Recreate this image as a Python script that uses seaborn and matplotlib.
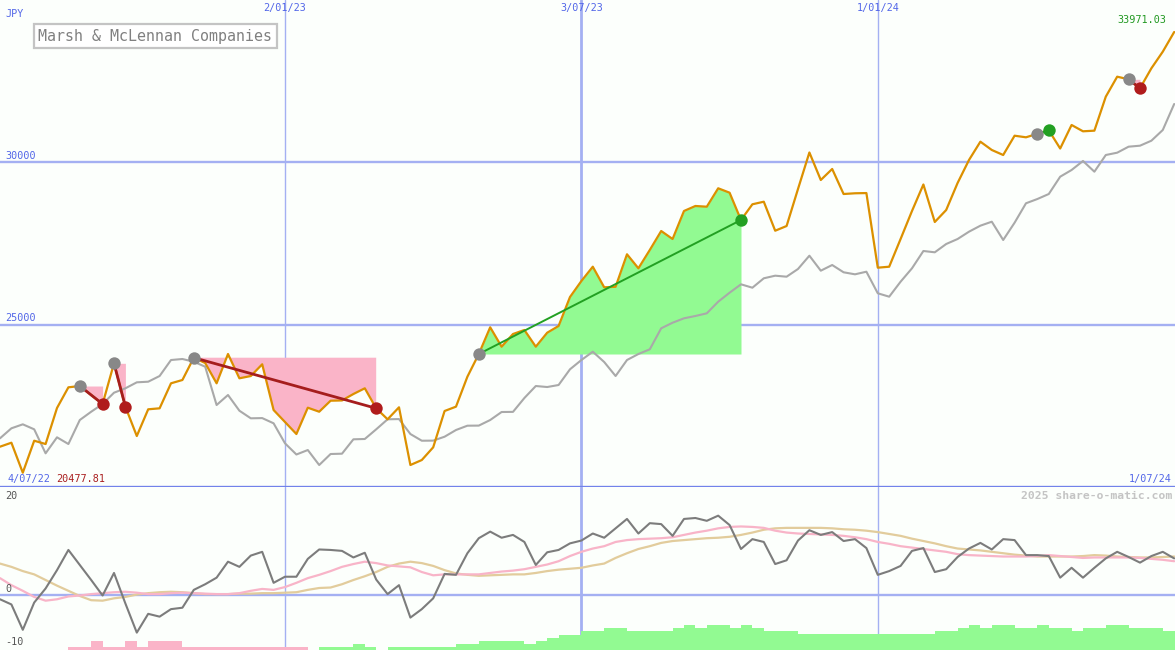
import seaborn as sns
import matplotlib.pyplot as plt
import matplotlib.dates as mdates
import numpy as np
import pandas as pd

# weekly closes, 11 Jul 2022 .. 1 Jul 2024 (JPY)
weeks = pd.date_range('2022-07-11', '2024-07-01', freq='7D')

price = [21274, 21396, 20477.81, 21457, 21356, 22459, 23092, 23132, 22857, 22581,
         23827, 22498, 21601, 22419, 22449, 23215, 23316, 23999, 23836, 23215,
         24112, 23368, 23438, 23797, 22397, 22030, 21662, 22468, 22345, 22682,
         22690, 22887, 23062, 22449, 22113, 22480, 20713, 20866, 21255, 22367,
         22500, 23417, 24112, 24930, 24336, 24724, 24847, 24336, 24764, 24970,
         25857, 26347, 26785, 26154, 26170, 27165, 26736, 27297, 27878, 27633,
         28491, 28644, 28622, 29186, 29051, 28215, 28696, 28775, 27887, 28031,
         29164, 30282, 29440, 29777, 29011, 29033, 29040, 26755, 26785, 27633,
         28491, 29302, 28154, 28521, 29348, 30052, 30613, 30359, 30205, 30796,
         30747, 30855, 30962, 30404, 31124, 30931, 30950, 31991, 32603, 32523,
         32248, 32860, 33369, 33971.03]

# comparison index, scaled to the price
market = [21531, 21837, 21959, 21806, 21071, 21561, 21356, 22091, 22345, 22581,
          22927, 23062, 23245, 23264, 23438, 23928, 23959, 23876, 23723, 22550,
          22857, 22376, 22143, 22150, 21990, 21378, 21035, 21172, 20713, 21050,
          21060, 21500, 21510, 21806, 22113, 22120, 21662, 21457, 21460, 21580,
          21785, 21917, 21920, 22091, 22336, 22340, 22765, 23132, 23101, 23163,
          23644, 23928, 24182, 23867, 23438, 23928, 24112, 24256, 24899, 25070,
          25205, 25276, 25358, 25713, 25989, 26246, 26142, 26430, 26510, 26479,
          26715, 27122, 26663, 26837, 26614, 26552, 26632, 25971, 25867, 26326,
          26736, 27266, 27226, 27480, 27633, 27857, 28041, 28163, 27603, 28132,
          28727, 28858, 29011, 29541, 29746, 30022, 29694, 30205, 30276, 30460,
          30490, 30643, 30971, 31767]

momentum = [-0.9, -2.0, -7.4, -1.6, 1.4, 5.3, 9.6, 6.4, 3.2, -0.1,
            4.7, -1.8, -8.0, -4.0, -4.6, -3.0, -2.7, 1.1, 2.3, 3.7,
            7.1, 6.0, 8.4, 9.2, 2.6, 3.9, 3.9, 7.7, 9.7, 9.6,
            9.4, 8.0, 9.0, 3.3, 0.2, 2.1, -4.8, -3.0, -0.7, 4.5,
            4.3, 8.9, 12.1, 13.5, 12.2, 12.8, 11.3, 6.4, 9.1, 9.6,
            11.0, 11.6, 13.1, 12.2, 14.2, 16.2, 13.1, 15.3, 15.1, 12.6,
            16.2, 16.4, 15.8, 16.9, 14.9, 9.8, 11.9, 11.3, 6.6, 7.4,
            11.6, 13.8, 12.8, 13.4, 11.5, 11.9, 10.0, 4.3, 5.1, 6.2,
            9.4, 10.0, 4.9, 5.5, 8.1, 9.9, 11.1, 9.7, 11.9, 11.7,
            8.5, 8.5, 8.3, 3.7, 5.8, 3.7, 5.8, 7.8, 9.2, 8.1,
            6.9, 8.3, 9.2, 7.8]

avg_fast = [3.6, 2.1, 0.9, -0.4, -1.2, -0.9, -0.3, -0.1, 0.2, 0.4,
            0.6, 0.7, 0.5, 0.2, 0.2, 0.4, 0.5, 0.4, 0.3, 0.2,
            0.2, 0.4, 0.9, 1.3, 1.1, 1.7, 2.6, 3.6, 4.3, 5.1,
            6.0, 6.6, 7.1, 6.8, 6.3, 6.1, 5.9, 4.9, 4.2, 4.4,
            4.4, 4.4, 4.4, 4.7, 5.0, 5.2, 5.5, 6.0, 6.5, 7.2,
            8.3, 9.2, 9.9, 10.4, 11.3, 11.7, 11.9, 12.0, 12.1, 12.3,
            12.8, 13.3, 13.7, 14.2, 14.5, 14.6, 14.5, 14.3, 13.7, 13.3,
            13.1, 13.0, 12.9, 12.8, 12.6, 12.3, 11.9, 11.3, 10.9, 10.4,
            10.1, 9.8, 9.5, 9.2, 8.7, 8.5, 8.4, 8.3, 8.2, 8.2,
            8.2, 8.3, 8.5, 8.3, 8.1, 7.9, 8.0, 8.0, 8.0, 8.0,
            7.9, 7.7, 7.5, 7.2]

avg_slow = [6.7, 6.0, 5.1, 4.4, 3.2, 2.0, 0.9, -0.2, -1.1, -1.2,
            -0.7, -0.4, 0.1, 0.4, 0.6, 0.7, 0.6, 0.4, 0.2, 0.2,
            0.2, 0.3, 0.3, 0.4, 0.4, 0.5, 0.6, 1.1, 1.5, 1.6,
            2.3, 3.2, 4.0, 4.9, 6.0, 6.7, 7.1, 6.8, 6.2, 5.3,
            4.6, 4.3, 4.1, 4.2, 4.3, 4.4, 4.4, 4.7, 5.1, 5.4,
            5.6, 5.8, 6.3, 6.7, 7.9, 8.9, 9.8, 10.4, 11.1, 11.5,
            11.7, 11.9, 12.1, 12.2, 12.4, 12.8, 13.3, 13.9, 14.2, 14.3,
            14.3, 14.3, 14.3, 14.2, 14.0, 13.9, 13.7, 13.4, 13.0, 12.6,
            12.0, 11.5, 11.0, 10.4, 9.9, 9.7, 9.5, 9.2, 8.9, 8.6,
            8.4, 8.2, 8.2, 8.2, 8.2, 8.3, 8.5, 8.4, 8.2, 8.1,
            8.0, 8.0, 8.1, 8.2]

# trend strength bars, negative = bearish (pink)
trend_bars = ([0] * 6 + [-3, -3, -9, -3, -3, -9, -3, -9, -9, -9] + [-3] * 11 + [0]
              + [3, 3, 3, 6, 3, 0] + [3] * 6 + [6, 6, 9, 9, 9, 9, 6, 9, 12, 15, 15]
              + [19, 19, 22, 22, 19, 19, 19, 19, 22, 25, 22, 25, 25, 22, 25, 22, 19, 19, 19]
              + [16] * 12 + [19, 19, 22, 25, 22, 25, 25, 22, 22, 25, 22, 22, 19, 22, 22,
                             25, 25, 22, 22, 22, 19, 19])

trade_buy = ['2022-08-29', '2022-09-19', '2022-11-07', '2023-05-01', '2024-04-08', '2024-06-03']
trade_sell = ['2022-09-12', '2022-09-26', '2023-02-27', '2023-10-09', '2024-04-15', '2024-06-10']

grid_dates = ['2023-01-02', '2023-07-03', '2024-01-01']
grid_labels = ['2/01/23', '3/07/23', '1/01/24']
grid_widths = [1.0, 2.0, 1.0]
price_grid = [25000, 30000]

df = pd.DataFrame({'week': weeks, 'price': price, 'market': market,
                   'momentum': momentum, 'fast': avg_fast, 'slow': avg_slow,
                   'bars': trend_bars})

sns.set_style('white')
plt.rcParams['font.family'] = ['DejaVu Sans Mono', 'DejaVu Sans']

bg = '#fcfffc'
gridc = '#a4b0f2'
blue = '#5266e8'
pink = '#fab4c8'
lgreen = '#92fa92'

W, H = 1175, 650
fig = plt.figure(figsize=(11.75, 6.5), dpi=100)
fig.patch.set_facecolor(bg)
top = 487 / H
ax = fig.add_axes([0, 1 - top, 1, top])
axm = fig.add_axes([0, 0, 1, 1 - top], sharex=ax)
for a in (ax, axm):
    a.set_facecolor(bg)
    for sp in a.spines.values():
        sp.set_visible(False)
ax.spines['bottom'].set_visible(True)
ax.spines['bottom'].set_color('#7282ea')
ax.spines['bottom'].set_linewidth(2.4)

# grid
for d, w in zip(grid_dates, grid_widths):
    ax.axvline(pd.Timestamp(d), color=gridc, lw=w, zorder=0)
    axm.axvline(pd.Timestamp(d), color=gridc, lw=w, zorder=0)
for g in price_grid:
    ax.axhline(g, color=gridc, lw=1.7, zorder=0)
axm.axhline(0, color=gridc, lw=1.7, zorder=0)

# trades
for b, s in zip(trade_buy, trade_sell):
    seg = df[(df.week >= b) & (df.week <= s)]
    xs = mdates.date2num(seg.week)
    p0, p1 = seg.price.iloc[0], seg.price.iloc[-1]
    ax.fill_between(xs, p0, seg.price, where=seg.price <= p0, interpolate=True,
                    color=pink, lw=0, zorder=1)
    ax.fill_between(xs, p0, seg.price, where=seg.price >= p0, interpolate=True,
                    color=lgreen, lw=0, zorder=1)
    win = p1 > p0
    ax.plot([xs[0], xs[-1]], [p0, p1], color='#22a022' if win else '#a51d1d',
            lw=1.4 if win else 2.0, zorder=5)
    ax.scatter([xs[0]], [p0], s=80, color='#888888', lw=0, zorder=6)
    ax.scatter([xs[-1]], [p1], s=80, color='#22a022' if win else '#b01c1c', lw=0, zorder=6)

sns.lineplot(data=df, x='week', y='market', ax=ax, color='#a9a9a9', lw=1.5, zorder=3)
sns.lineplot(data=df, x='week', y='price', ax=ax, color='#dc9000', lw=1.6, zorder=4)

sns.lineplot(data=df, x='week', y='slow', ax=axm, color='#e2cc9c', lw=1.6, zorder=2)
sns.lineplot(data=df, x='week', y='fast', ax=axm, color='#f8b4c8', lw=1.6, zorder=3)
sns.lineplot(data=df, x='week', y='momentum', ax=axm, color='#7c7c7c', lw=1.5, zorder=4)

axb = axm.twinx()
for sp in axb.spines.values():
    sp.set_visible(False)
cols = [lgreen if v > 0 else pink for v in df.bars]
axb.bar(mdates.date2num(df.week), np.abs(df.bars), width=7, align='edge', color=cols, lw=0)
axb.set_ylim(0, 161)
axb.set_yticks([])

ax.set_ylim(20040, 34951)
axm.set_ylim(-11.7, 23.0)
ax.set_xlim(pd.Timestamp('2022-07-11'), pd.Timestamp('2024-07-01 12:00'))
for a in (ax, axm):
    a.set_xlabel('')
    a.set_ylabel('')
    a.tick_params(left=False, bottom=False, labelleft=False, labelbottom=False)


def px(x, y, s, **kw):
    fig.text(x / W, 1 - y / H, s, va='center', **kw)


fs = 7.3
px(5, 14, 'JPY', color=blue, fontsize=fs)
for d, lab in zip(grid_dates, grid_labels):
    xf = mdates.date2num(pd.Timestamp(d))
    ax.text(xf, 1 - 8 / 487, lab, transform=ax.get_xaxis_transform(), ha='center',
            va='center', color=blue, fontsize=fs)
px(1166, 20, f'{max(price):.2f}', color='#229922', fontsize=fs, ha='right')
px(5, 156, '30000', color=blue, fontsize=fs)
px(5, 318, '25000', color=blue, fontsize=fs)
px(8, 479, '4/07/22', color=blue, fontsize=fs)
px(56, 479, f'{min(price):.2f}', color='#aa2020', fontsize=fs)
px(1172, 479, '1/07/24', color=blue, fontsize=fs, ha='right')
px(1172, 496, '2025 share-o-matic.com', color='#c4c4c4', fontsize=8.2,
   ha='right', fontweight='bold')
px(5, 496, '20', color='#555555', fontsize=fs)
px(5, 589, '0', color='#555555', fontsize=fs)
px(5, 642, '-10', color='#555555', fontsize=fs)
px(155, 36, 'Marsh & McLennan Companies', color='#808080', fontsize=10.8, ha='center',
   bbox=dict(boxstyle='square,pad=0.3', fc='white', ec='#c4c4c4', lw=1.6))

fig.savefig('out.png', dpi=100, facecolor=bg)
